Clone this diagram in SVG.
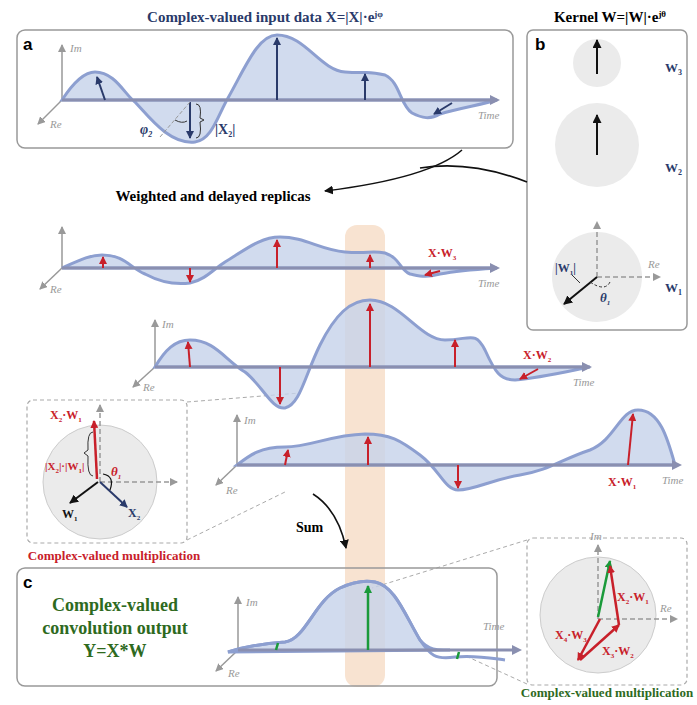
<svg xmlns="http://www.w3.org/2000/svg" width="697" height="705" viewBox="0 0 697 705">
<defs>
<marker id="ag" markerWidth="8" markerHeight="8" refX="7" refY="4" orient="auto" markerUnits="userSpaceOnUse"><path d="M0,0L8,4L0,8z" fill="#999"/></marker>
<marker id="ab" markerWidth="8" markerHeight="8" refX="7" refY="4" orient="auto" markerUnits="userSpaceOnUse"><path d="M0,0L8,4L0,8z" fill="#2a3a6a"/></marker>
<marker id="ar" markerWidth="8" markerHeight="8" refX="7" refY="4" orient="auto" markerUnits="userSpaceOnUse"><path d="M0,0L8,4L0,8z" fill="#c8202a"/></marker>
<marker id="ak" markerWidth="9" markerHeight="9" refX="8" refY="4.5" orient="auto" markerUnits="userSpaceOnUse"><path d="M0,0L9,4.5L0,9z" fill="#111"/></marker>
<marker id="agr" markerWidth="8" markerHeight="8" refX="7" refY="4" orient="auto" markerUnits="userSpaceOnUse"><path d="M0,0L8,4L0,8z" fill="#1a9a3a"/></marker>
</defs>
<style>
.t{font-family:"Liberation Serif",serif;font-weight:bold}
.ax{stroke:#999;stroke-width:1.5;fill:none;marker-end:url(#ag)}
.dax{stroke:#999;stroke-width:1.5;fill:none;stroke-dasharray:5,3;marker-end:url(#ag)}
.lab{font-family:"Liberation Serif",serif;font-style:italic;font-size:11px;fill:#999}
.wave{fill:#c6d2ea;fill-opacity:.8;stroke:#8d9fd0;stroke-width:3}
.base{stroke:#8a8fb0;stroke-width:3}
.bl{stroke:#2a3a6a;stroke-width:2;marker-end:url(#ab)}
.rd{stroke:#c8202a;stroke-width:2;marker-end:url(#ar)}
.box{fill:none;stroke:#999;stroke-width:1.5}
.dbox{fill:#fff;stroke:#aaa;stroke-width:1.2;stroke-dasharray:4,3}
.circ{fill:#ebebeb;stroke:#ccc}
</style>
<rect x="345" y="225" width="40" height="462" rx="12" fill="#f6dcc6" opacity="0.8"/>

<g id="panel-a">
<text class="t" x="265" y="22" text-anchor="middle" font-size="15" fill="#2a3a6a">Complex-valued input data X=|X|·e<tspan font-size="9" dy="-5">jφ</tspan></text>
<rect class="box" x="17" y="30" width="496" height="118" rx="8"/>
<text x="23" y="50" font-family="Liberation Sans,sans-serif" font-weight="bold" font-size="17">a</text>
<line class="ax" x1="62" y1="100" x2="62" y2="45"/><text class="lab" x="70" y="52">Im</text>
<line class="ax" x1="62" y1="100" x2="38" y2="124"/><text class="lab" x="50" y="128">Re</text>
<path class="wave" d="M62,100 C75,80 85,72 95,72 C115,72 125,95 135,102 C150,118 170,145 195,142 C212,140 218,115 228,98 C245,68 258,35 277,35 C305,35 320,70 345,72 C370,74 365,70 385,75 C400,82 400,105 412,113 C422,118 430,120 440,114 C460,108 480,105 497,100 Z"/>
<line class="base" x1="62" y1="100" x2="493" y2="100"/><path d="M490,95L500,100L490,105z" fill="#8a8fb0"/>
<text class="lab" x="478" y="119">Time</text>
<line class="bl" x1="105" y1="100" x2="97" y2="77"/>
<line class="bl" x1="190" y1="102" x2="190" y2="138"/>
<line class="bl" x1="277" y1="100" x2="277" y2="38"/>
<line class="bl" x1="365" y1="100" x2="365" y2="74"/>
<line class="bl" x1="452" y1="103" x2="434" y2="114"/>
<line x1="190" y1="102" x2="160" y2="137" stroke="#999" stroke-dasharray="4,2"/>
<path d="M175,120 Q182,124 187,121" stroke="#333" fill="none"/>
<path d="M196,104 Q202,104 200,118 L204,120 L200,122 Q202,138 196,138" stroke="#333" fill="none"/>
<text class="t" x="140" y="134" font-size="14" font-style="italic" fill="#2a3a6a">φ<tspan font-size="8" dy="3">2</tspan></text>
<text class="t" x="215" y="134" font-size="14" fill="#2a3a6a">|X<tspan font-size="8" dy="3">2</tspan><tspan dy="-3">|</tspan></text>
</g>

<g id="panel-b">
<text class="t" x="610" y="22" text-anchor="middle" font-size="15">Kernel W=|W|·e<tspan font-size="9" dy="-5">jθ</tspan></text>
<rect class="box" x="527" y="30" width="160" height="300" rx="6"/>
<text x="535" y="50" font-family="Liberation Sans,sans-serif" font-weight="bold" font-size="17">b</text>
<circle cx="597" cy="63" r="24" fill="#ebebeb"/>
<line stroke="#111" stroke-width="2" marker-end="url(#ak)" x1="597" y1="74" x2="597" y2="40"/>
<text class="t" x="665" y="72" font-size="13" fill="#2a3a6a">W<tspan font-size="8" dy="3">3</tspan></text>
<circle cx="597" cy="145" r="42" fill="#ebebeb"/>
<line stroke="#111" stroke-width="2" marker-end="url(#ak)" x1="597" y1="155" x2="597" y2="115"/>
<text class="t" x="665" y="172" font-size="13" fill="#2a3a6a">W<tspan font-size="8" dy="3">2</tspan></text>
<circle cx="597" cy="277" r="45" fill="#ebebeb"/>
<line class="dax" x1="597" y1="277" x2="597" y2="222"/>
<line class="dax" x1="597" y1="277" x2="660" y2="277"/>
<line stroke="#111" stroke-width="2" marker-end="url(#ak)" x1="597" y1="277" x2="564" y2="304"/>
<text class="lab" x="648" y="268">Re</text>
<path d="M590,282 Q605,292 610,282" stroke="#333" fill="none" stroke-dasharray="3,2"/>
<path d="M572,275 L580,283" stroke="#333"/>
<text class="t" x="555" y="272" font-size="12" fill="#2a3a6a">|W<tspan font-size="7" dy="3">1</tspan><tspan dy="-3">|</tspan></text>
<text class="t" x="600" y="302" font-size="13" font-style="italic" fill="#2a3a6a">θ<tspan font-size="7" dy="3">1</tspan></text>
<text class="t" x="665" y="292" font-size="13" fill="#2a3a6a">W<tspan font-size="8" dy="3">1</tspan></text>
</g>

<g id="connectors">
<path d="M527,182 Q470,160 420,168" stroke="#111" stroke-width="1.6" fill="none"/>
<path d="M462,150 Q430,178 325,191" stroke="#111" stroke-width="1.6" fill="none" marker-end="url(#ak)"/>
<path d="M313,494 Q338,510 346,548" stroke="#111" stroke-width="1.6" fill="none" marker-end="url(#ak)"/>
<line x1="187" y1="402" x2="300" y2="393" stroke="#aaa" stroke-dasharray="4,3"/>
<line x1="187" y1="540" x2="285" y2="492" stroke="#aaa" stroke-dasharray="4,3"/>
<line x1="527" y1="540" x2="372" y2="588" stroke="#aaa" stroke-dasharray="4,3"/>
<line x1="527" y1="684" x2="468" y2="657" stroke="#aaa" stroke-dasharray="4,3"/>
</g>

<text class="t" x="213" y="201" text-anchor="middle" font-size="15">Weighted and delayed replicas</text>

<g id="replica-3">
<line class="ax" x1="62" y1="268" x2="62" y2="227"/>
<line class="ax" x1="62" y1="268" x2="40" y2="289"/><text class="lab" x="50" y="293">Re</text>
<path class="wave" d="M62,268 C80,260 90,255 102,255 C125,255 130,268 145,274 C160,282 175,285 190,283 C205,280 215,268 225,262 C245,250 260,237 280,237 C305,237 320,250 345,252 C370,254 370,250 385,253 C400,258 400,270 410,274 C420,276 425,278 440,274 C460,270 480,269 497,268 Z"/>
<line class="base" x1="62" y1="268" x2="493" y2="268"/><path d="M490,263L500,268L490,273z" fill="#8a8fb0"/>
<text class="lab" x="478" y="287">Time</text>
<line class="rd" x1="103" y1="268" x2="103" y2="257"/>
<line class="rd" x1="190" y1="268" x2="190" y2="282"/>
<line class="rd" x1="277" y1="268" x2="277" y2="240"/>
<line class="rd" x1="370" y1="268" x2="370" y2="255"/>
<line class="rd" x1="440" y1="271" x2="425" y2="275"/>
<text class="t" x="428" y="257" font-size="12" fill="#c8202a">X·W<tspan font-size="7" dy="3">3</tspan></text>
</g>

<g id="replica-2">
<line class="ax" x1="155" y1="367" x2="155" y2="320"/><text class="lab" x="162" y="328">Im</text>
<line class="ax" x1="155" y1="367" x2="133" y2="387"/><text class="lab" x="143" y="391">Re</text>
<path class="wave" d="M155,367 C165,350 175,340 190,340 C215,340 225,360 245,372 C262,385 272,410 285,408 C300,405 305,375 320,345 C335,315 350,300 370,300 C400,300 420,340 445,340 C470,340 475,330 485,350 C495,372 500,380 515,380 C540,378 565,372 590,367 Z"/>
<line class="base" x1="155" y1="367" x2="585" y2="367"/><path d="M582,362L592,367L582,372z" fill="#8a8fb0"/>
<text class="lab" x="573" y="386">Time</text>
<line class="rd" x1="190" y1="367" x2="188" y2="342"/>
<line class="rd" x1="280" y1="367" x2="280" y2="404"/>
<line class="rd" x1="370" y1="367" x2="370" y2="304"/>
<line class="rd" x1="455" y1="367" x2="455" y2="340"/>
<line class="rd" x1="538" y1="369" x2="520" y2="379"/>
<text class="t" x="523" y="359" font-size="12" fill="#c8202a">X·W<tspan font-size="7" dy="3">2</tspan></text>
</g>

<g id="replica-1">
<line class="ax" x1="237" y1="465" x2="237" y2="415"/><text class="lab" x="244" y="424">Im</text>
<line class="ax" x1="237" y1="465" x2="216" y2="485"/><text class="lab" x="226" y="494">Re</text>
<path class="wave" d="M237,465 C250,455 260,447 285,447 C310,447 330,435 365,434 C390,434 400,440 420,455 C440,470 445,490 458,490 C475,490 490,480 520,475 C550,470 560,460 590,450 C615,440 620,410 638,410 C660,410 668,440 675,465 Z"/>
<line class="base" x1="237" y1="465" x2="675" y2="465"/><path d="M672,460L682,465L672,470z" fill="#8a8fb0"/>
<text class="lab" x="662" y="484">Time</text>
<line class="rd" x1="285" y1="465" x2="288" y2="450"/>
<line class="rd" x1="368" y1="465" x2="368" y2="437"/>
<line class="rd" x1="458" y1="465" x2="458" y2="488"/>
<line class="rd" x1="628" y1="465" x2="633" y2="414"/>
<text class="t" x="608" y="486" font-size="12" fill="#c8202a">X·W<tspan font-size="7" dy="3">1</tspan></text>
</g>

<g id="inset-left">
<rect class="dbox" x="27" y="400" width="160" height="143" rx="6"/>
<circle class="circ" cx="100" cy="482" r="57"/>
<line class="dax" x1="100" y1="482" x2="100" y2="405"/>
<line class="dax" x1="100" y1="482" x2="177" y2="482"/>
<line stroke="#c8202a" stroke-width="2.5" marker-end="url(#ar)" x1="97" y1="479" x2="94" y2="421"/>
<line stroke="#111" stroke-width="2" marker-end="url(#ak)" x1="98" y1="482" x2="70" y2="503"/>
<line stroke="#2a3a6a" stroke-width="2" marker-end="url(#ab)" x1="100" y1="482" x2="127" y2="507"/>
<path d="M93,432 Q87,432 88,450 L84,453 L88,456 Q87,476 93,476" stroke="#333" fill="none"/>
<path d="M103,474 Q115,476 110,490" stroke="#111" fill="none" stroke-width="1.2"/>
<text class="t" x="50" y="419" font-size="12" fill="#c8202a">X<tspan font-size="7" dy="3">2</tspan><tspan dy="-3">·W</tspan><tspan font-size="7" dy="3">1</tspan></text>
<text class="t" x="45" y="470" font-size="11" fill="#c8202a">|X<tspan font-size="7" dy="3">2</tspan><tspan dy="-3">|·|W</tspan><tspan font-size="7" dy="3">1</tspan><tspan dy="-3">|</tspan></text>
<text class="t" x="111" y="476" font-size="13" font-style="italic" fill="#c8202a">θ<tspan font-size="7" dy="3">1</tspan></text>
<text class="t" x="62" y="518" font-size="12" fill="#111">W<tspan font-size="7" dy="3">1</tspan></text>
<text class="t" x="128" y="517" font-size="12" fill="#2a3a6a">X<tspan font-size="7" dy="3">2</tspan></text>
<text class="t" x="114" y="560" text-anchor="middle" font-size="13" fill="#c8202a">Complex-valued multiplication</text>
</g>

<text class="t" x="296" y="532" font-size="14">Sum</text>

<g id="panel-c">
<rect class="box" x="17" y="568" width="480" height="118" rx="8"/>
<text x="23" y="588" font-family="Liberation Sans,sans-serif" font-weight="bold" font-size="17">c</text>
<text class="t" x="115" y="611" text-anchor="middle" font-size="18" fill="#2e6a1e">Complex-valued</text>
<text class="t" x="115" y="634" text-anchor="middle" font-size="18" fill="#2e6a1e">convolution output</text>
<text class="t" x="115" y="657" text-anchor="middle" font-size="18" fill="#2e6a1e">Y=X*W</text>
<line class="ax" x1="238" y1="650" x2="238" y2="597"/><text class="lab" x="246" y="606">Im</text>
<line class="ax" x1="238" y1="650" x2="216" y2="671"/><text class="lab" x="228" y="677">Re</text>
<path class="wave" d="M228,652 C250,645 270,643 285,642 C305,640 315,600 340,588 C355,581 365,580 375,582 C395,586 405,615 420,640 C430,652 440,650 450,650 L228,652 Z" stroke="none"/>
<path d="M228,652 C250,645 270,643 285,642 C305,640 315,600 340,588 C355,581 365,580 375,582 C395,586 405,615 420,640 C430,655 435,660 455,657 C475,655 490,658 505,660" fill="none" stroke="#8d9fd0" stroke-width="3"/>
<line class="base" x1="238" y1="650" x2="515" y2="650"/><path d="M512,645L522,650L512,655z" fill="#8a8fb0"/>
<text class="lab" x="483" y="630">Time</text>
<line stroke="#1a9a3a" stroke-width="2.5" marker-end="url(#agr)" x1="368" y1="650" x2="368" y2="586"/>
<line stroke="#1a9a3a" stroke-width="2.5" x1="276" y1="650" x2="278" y2="643"/>
<line stroke="#1a9a3a" stroke-width="2.5" x1="459" y1="652" x2="457" y2="659"/>
</g>

<g id="inset-right">
<rect class="dbox" x="527" y="538" width="160" height="147" rx="6"/>
<circle class="circ" cx="598" cy="615" r="58"/>
<line class="dax" x1="598" y1="619" x2="598" y2="545"/>
<line class="dax" x1="598" y1="619" x2="677" y2="619"/>
<text class="lab" x="590" y="540">Im</text>
<text class="lab" x="660" y="612">Re</text>
<line stroke="#1a9a3a" stroke-width="2.5" marker-end="url(#agr)" x1="598" y1="617" x2="610" y2="561"/>
<line stroke="#c8202a" stroke-width="2.5" marker-end="url(#ar)" x1="600" y1="619" x2="578" y2="660"/>
<line stroke="#c8202a" stroke-width="2.5" marker-end="url(#ar)" x1="580" y1="660" x2="619" y2="625"/>
<line stroke="#c8202a" stroke-width="2.5" marker-end="url(#ar)" x1="619" y1="625" x2="610" y2="566"/>
<text class="t" x="617" y="601" font-size="12" fill="#c8202a">X<tspan font-size="7" dy="3">2</tspan><tspan dy="-3">·W</tspan><tspan font-size="7" dy="3">1</tspan></text>
<text class="t" x="555" y="639" font-size="12" fill="#c8202a">X<tspan font-size="7" dy="3">4</tspan><tspan dy="-3">·W</tspan><tspan font-size="7" dy="3">3</tspan></text>
<text class="t" x="602" y="655" font-size="12" fill="#c8202a">X<tspan font-size="7" dy="3">3</tspan><tspan dy="-3">·W</tspan><tspan font-size="7" dy="3">2</tspan></text>
<text class="t" x="607" y="697" text-anchor="middle" font-size="13" fill="#2e6a1e">Complex-valued multiplication</text>
</g>
</svg>
